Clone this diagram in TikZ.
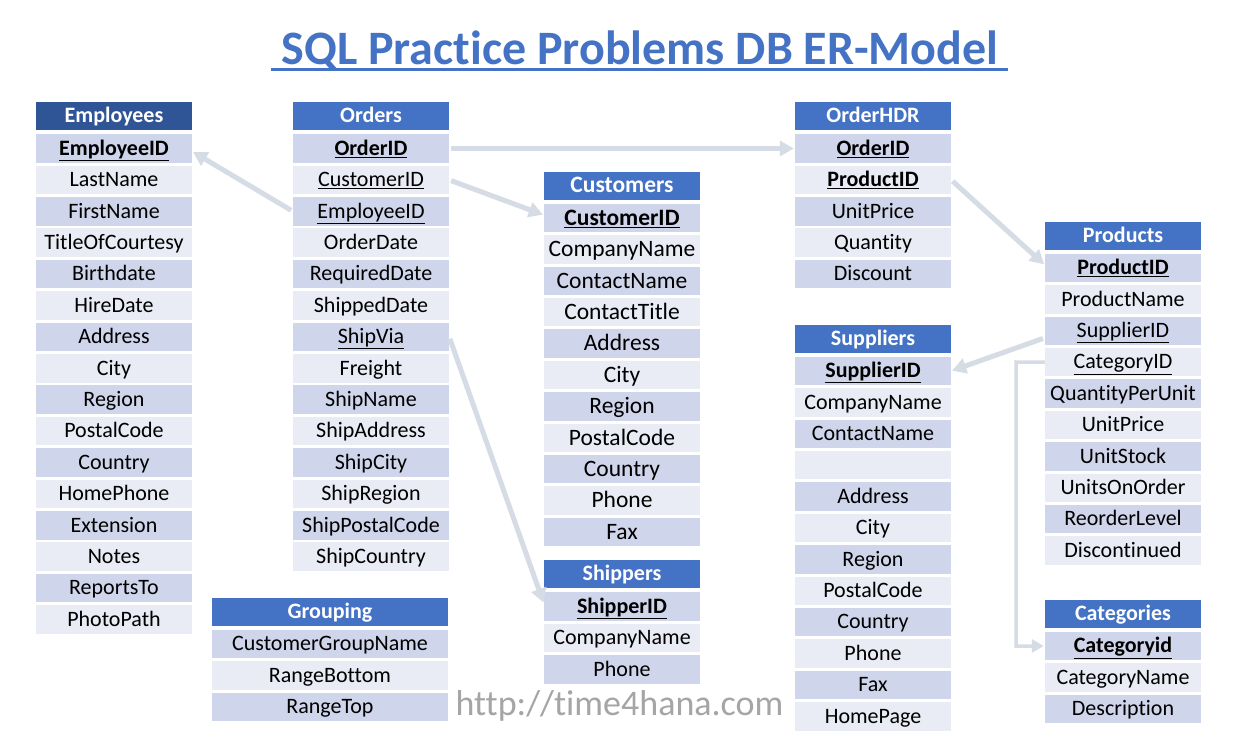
\documentclass[tikz,border=0pt]{standalone}
\usepackage{fontspec}
\setmainfont{Carlito}[Ligatures={NoCommon,NoContextual}]
\usetikzlibrary{arrows.meta}
\definecolor{hdrblue}{HTML}{4472C4}
\definecolor{hdrdark}{HTML}{2F5597}
\definecolor{rowdark}{HTML}{CFD5EA}
\definecolor{rowlight}{HTML}{E9EBF5}
\definecolor{connclr}{HTML}{D6DCE5}
\definecolor{urlgray}{HTML}{A5A5A5}
\newcommand\pk[1]{\textbf{\underline{#1}}}
\newcommand\fk[1]{\underline{#1}}
\tikzset{
  hdrcell/.style={rectangle, inner sep=0pt, minimum height=28pt, text=white},
  rowcell/.style={rectangle, inner sep=0pt, minimum height=28.5pt, text=black},
  connector/.style={draw=connclr, line width=5pt, -{Triangle[length=14pt,width=15pt]}, shorten <=2pt, shorten >=1pt},
}
% name, width, xc, header y, header colour, title, fields, font size
\newcommand\erTable[8]{%
  \node[hdrcell, minimum width=#2pt, fill=#5, font=\fontsize{#8}{#8}\selectfont\bfseries,
        text height=\dimexpr #8pt*66/100\relax, text depth=1pt] (#1-h) at (#3,#4) {#6};
  \foreach \f [count=\i] in {#7} {
    \ifodd\i \def\rc{rowdark}\else\def\rc{rowlight}\fi
    \node[rowcell, minimum width=#2pt, fill=\rc, font=\fontsize{#8}{#8}\selectfont,
          text height=\dimexpr #8pt*66/100\relax, text depth=1pt] (#1-\i) at (#3, #4+32.5+\i*31.4-31.4) {\f};
  }%
}
\begin{document}
\begin{tikzpicture}[x=1pt, y=-1pt]
\useasboundingbox (0,0) rectangle (1234,749);
\fill[white] (0,0) rectangle (1234,749);
% title
\node[anchor=base, text=hdrblue, font=\fontsize{48}{48}\selectfont\bfseries, inner sep=0pt] (title) at (640,65) {SQL Practice Problems DB ER-Model};
\draw[hdrblue, line width=3pt] (271,70) -- (1008,70);
% tables
\erTable{emp}{156}{114}{116}{hdrdark}{Employees}{\pk{EmployeeID}, LastName, FirstName, TitleOfCourtesy, Birthdate, HireDate, Address, City, Region, PostalCode, Country, HomePhone, Extension, Notes, ReportsTo, PhotoPath}{22}
\erTable{ord}{156}{371}{116}{hdrblue}{Orders}{\pk{OrderID}, \fk{CustomerID}, \fk{EmployeeID}, OrderDate, RequiredDate, ShippedDate, \fk{ShipVia}, Freight, ShipName, ShipAddress, ShipCity, ShipRegion, ShipPostalCode, ShipCountry}{22}
\erTable{cus}{156}{622}{185.5}{hdrblue}{Customers}{\pk{CustomerID}, CompanyName, ContactName, ContactTitle, Address, City, Region, PostalCode, Country, Phone, Fax}{23.5}
\erTable{hdr}{156}{873}{116}{hdrblue}{OrderHDR}{\pk{OrderID}, \pk{ProductID}, UnitPrice, Quantity, Discount}{22}
\erTable{prd}{156}{1123}{235.5}{hdrblue}{Products}{\pk{ProductID}, ProductName, \fk{SupplierID}, \fk{CategoryID}, QuantityPerUnit, UnitPrice, UnitStock, UnitsOnOrder, ReorderLevel, Discontinued}{22}
\erTable{sup}{156}{873}{338.5}{hdrblue}{Suppliers}{\pk{SupplierID}, CompanyName, ContactName, {}, Address, City, Region, PostalCode, Country, Phone, Fax, HomePage}{22}
\erTable{shp}{156}{622}{574}{hdrblue}{Shippers}{\pk{ShipperID}, CompanyName, Phone}{22}
\erTable{grp}{236}{330}{611.5}{hdrblue}{Grouping}{CustomerGroupName, RangeBottom, RangeTop}{22}
\erTable{cat}{156}{1123}{613.5}{hdrblue}{Categories}{\pk{Categoryid}, CategoryName, Description}{22}
% url
\node[anchor=base, text=urlgray, font=\fontsize{36}{36}\selectfont, inner sep=0pt] (url) at (619.5,715) {http://time4hana.com};
% connectors
\draw[connector] (ord-1.east) -- (hdr-1.west);
\draw[connector] (ord-2.east) -- ([yshift=3pt]cus-1.west);
\draw[connector] (ord-3.west) -- ([yshift=-3pt]emp-1.east);
\draw[connector] (hdr-2.east) -- ([yshift=3pt]prd-1.west);
\draw[connector] ([yshift=-7pt]prd-3.west) -- (sup-1.east);
\draw[connector] (ord-7.east) -- ([yshift=3pt]shp-1.west);
\coordinate (catbend) at (1016,362);
\draw[draw=connclr, line width=3.5pt, -{Triangle[length=12pt,width=13pt]}, shorten >=1pt] (prd-4.west) -- (catbend) |- (cat-1.west);
\end{tikzpicture}
\end{document}
